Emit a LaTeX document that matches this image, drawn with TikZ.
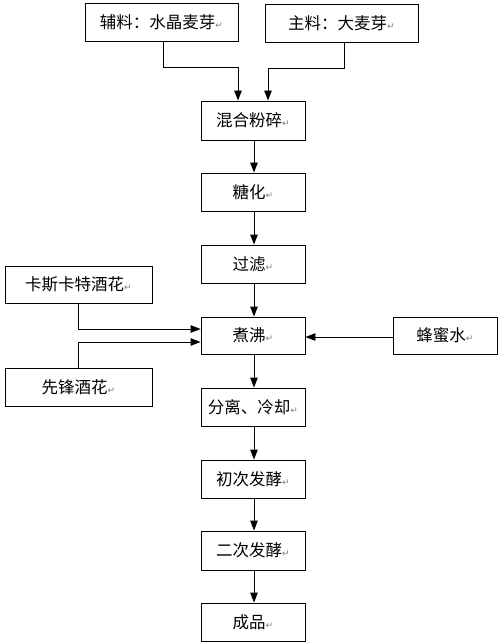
\documentclass[tikz,border=0pt]{standalone}
\usepackage{fontspec}
\newfontfamily\cjk{Noto Sans CJK SC}
\newfontfamily\symf{DejaVu Sans}
\usetikzlibrary{arrows.meta,calc}
\newcommand{\ret}{{\symf\fontsize{9}{9}\selectfont\color{gray}↵}}
\begin{document}
\begin{tikzpicture}[x=1pt,y=-1pt,
  box/.style={draw=black,line width=0.9pt,rectangle,inner sep=0pt,minimum height=38pt,
    font=\cjk\fontsize{16.5}{18}\selectfont},
  mainbox/.style={box,minimum width=104pt},
  arr/.style={draw=black,line width=0.9pt,-{Triangle[length=10pt,width=7.5pt]}}]
\useasboundingbox (0,0) rectangle (500,644);
\fill[white] (0,0) rectangle (500,644);
\node[box,minimum width=153pt] (a1) at (161.5,22.5) {辅料：水晶麦芽\ret};
\node[box,minimum width=153pt] (a2) at (341.5,23) {主料：大麦芽\ret};
\node[mainbox,minimum height=39pt] (mix) at (253,120.5) {混合粉碎\ret};
\node[mainbox] (sac) at (253,192) {糖化\ret};
\node[mainbox] (fil) at (253,264) {过滤\ret};
\node[mainbox,minimum height=37pt] (boil) at (253,335.5) {煮沸\ret};
\node[mainbox] (sep) at (253,407) {分离、冷却\ret};
\node[mainbox] (f1) at (253,479) {初次发酵\ret};
\node[mainbox,minimum height=39pt] (f2) at (253,550.5) {二次发酵\ret};
\node[mainbox] (prod) at (253,622) {成品\ret};
\node[box,minimum width=147pt,minimum height=37pt] (h1) at (78.5,284.5) {卡斯卡特酒花\ret};
\node[box,minimum width=147pt] (h2) at (78.5,387) {先锋酒花\ret};
\node[box,minimum width=104pt,minimum height=37pt] (honey) at (445,335.5) {蜂蜜水\ret};
\draw[arr] ([xshift=1.5pt]a1.south) -- ++(0,26) -| ([xshift=-15pt]mix.north);
\draw[arr] ([xshift=2.5pt]a2.south) -- ++(0,26) -| ([xshift=15pt]mix.north);
\draw[arr] ([xshift=1pt]mix.south) -- ([xshift=1pt]sac.north);
\draw[arr] ([xshift=1pt]sac.south) -- ([xshift=1pt]fil.north);
\draw[arr] ([xshift=1pt]fil.south) -- ([xshift=1pt]boil.north);
\draw[arr] ([xshift=1pt]boil.south) -- ([xshift=1pt]sep.north);
\draw[arr] ([xshift=1pt]sep.south) -- ([xshift=1pt]f1.north);
\draw[arr] ([xshift=1pt]f1.south) -- ([xshift=1pt]f2.north);
\draw[arr] ([xshift=1pt]f2.south) -- ([xshift=1pt]prod.north);
\draw[arr] (h1.south) |- ([yshift=6.5pt]boil.west);
\draw[arr] (h2.north) |- ([yshift=-6.5pt]boil.west);
\draw[arr] ([yshift=-1.5pt]honey.west) -- ([yshift=-1.5pt]boil.east);
\end{tikzpicture}
\end{document}
